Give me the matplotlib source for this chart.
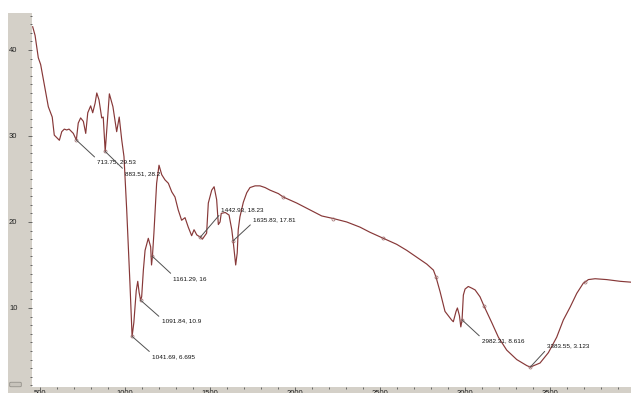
import matplotlib
matplotlib.use("Agg")
import numpy as np
from matplotlib import pyplot as plt
from matplotlib.patches import Rectangle, FancyBboxPatch

# IR spectrum trace (wavenumber, transmittance)
wavenumber = [
    457, 471, 490, 504, 529, 549, 572, 584, 594, 614, 628, 643, 657, 671, 686, 696,
    713.75, 725, 739, 755, 769, 781, 798, 810, 824, 834, 847, 863, 872, 883.51,
    908, 929, 951, 966, 981, 994, 1000, 1010, 1029, 1041.69, 1052, 1066, 1075,
    1083, 1091.84, 1098, 1108, 1118, 1137, 1151, 1156, 1161.29, 1170, 1186, 1200,
    1216, 1235, 1255, 1275, 1294, 1313, 1333, 1353, 1372, 1392, 1406, 1422,
    1442.93, 1455, 1480, 1490, 1510, 1524, 1539, 1549, 1559, 1566, 1590, 1612,
    1628, 1635.83, 1651, 1660, 1666, 1676, 1696, 1716, 1735, 1765, 1794, 1824,
    1853, 1902, 1931, 2010, 2088, 2157, 2225, 2304, 2382, 2441, 2519, 2598, 2657,
    2716, 2775, 2814, 2829, 2853, 2882, 2921, 2931, 2947, 2955, 2967, 2975,
    2982.31, 2990, 3000, 3019, 3040, 3059, 3088, 3112, 3157, 3196, 3245, 3304,
    3363, 3383.55, 3441, 3490, 3539, 3578, 3618, 3657, 3696, 3706, 3725, 3765,
    3833, 3912, 3976,
]
transmittance = [
    42.7, 41.7, 39.1, 38.3, 35.6, 33.4, 32.2, 30.1, 29.9, 29.5, 30.5, 30.8, 30.7,
    30.8, 30.5, 30.3, 29.53, 31.5, 32.1, 31.7, 30.3, 32.7, 33.5, 32.7, 33.8, 35.0,
    34.2, 32.1, 32.2, 28.2, 34.9, 33.4, 30.5, 32.2, 29.5, 27.6, 25.2, 21.4, 12.9,
    6.695, 8.3, 12.0, 13.1, 11.8, 10.9, 11.3, 14.4, 16.7, 18.1, 17.1, 15.0, 16.0,
    18.7, 24.5, 26.6, 25.5, 24.9, 24.5, 23.5, 22.9, 21.4, 20.2, 20.5, 19.4, 18.4,
    19.1, 18.5, 18.23, 18.0, 18.7, 22.2, 23.7, 24.1, 22.6, 19.7, 20.0, 21.0, 21.1,
    20.8, 19.1, 17.81, 15.0, 16.4, 19.1, 20.6, 22.3, 23.4, 24.0, 24.2, 24.2, 24.0,
    23.7, 23.3, 22.9, 22.2, 21.4, 20.7, 20.4, 20.0, 19.4, 18.8, 18.1, 17.4, 16.7,
    15.9, 15.1, 14.4, 13.6, 11.9, 9.6, 8.6, 8.4, 9.6, 10.0, 9.1, 7.8, 8.616, 11.5,
    12.2, 12.5, 12.3, 12.1, 11.3, 10.2, 8.3, 6.6, 5.1, 4.0, 3.3, 3.123, 3.6, 4.8,
    6.6, 8.6, 10.1, 11.7, 12.9, 13.0, 13.3, 13.4, 13.3, 13.1, 13.0,
]

# picked peaks and where their labels sit (pixel offset from the peak)
peak_x = [713.75, 883.51, 1041.69, 1091.84, 1161.29, 1442.93, 1635.83, 2982.31, 3383.55]
peak_y = [29.53, 28.2, 6.695, 10.9, 16, 18.23, 17.81, 8.616, 3.123]
peak_text = ["713.75, 29.53", "883.51, 28.2", "1041.69, 6.695", "1091.84, 10.9",
             "1161.29, 16", "1442.93, 18.23", "1635.83, 17.81", "2982.31, 8.616",
             "3383.55, 3.123"]
label_dx = [21, 20, 20, 21, 21, 21, 20, 20, 17]
label_dy = [-22, -22, -20, -21, -22, 27, 21, -21, 21]

# spline knots shown as small circles on the smooth part
knot_x = [1931, 2225, 2519, 2829, 3112, 3706]

x_ticks = [500, 1000, 1500, 2000, 2500, 3000, 3500]
y_ticks = [10, 20, 30, 40]

W, H = 631, 393
fig = plt.figure(figsize=(W / 100, H / 100), dpi=100)
fig.patch.set_facecolor("white")

panel = "#d4d0c8"
fig.patches.append(Rectangle((8 / W, 0), 24 / W, 380 / H, transform=fig.transFigure,
                             facecolor=panel, edgecolor="none", zorder=-2))
fig.patches.append(Rectangle((8 / W, 0), (W - 8) / W, 6 / H, transform=fig.transFigure,
                             facecolor=panel, edgecolor="none", zorder=-2))
fig.patches.append(FancyBboxPatch((11 / W, 7 / H), 9 / W, 3 / H,
                                  boxstyle="round,pad=0.002", transform=fig.transFigure,
                                  facecolor="#c8c4bc", edgecolor="#8a8780", lw=0.5, zorder=-1))

ax = fig.add_axes([32 / W, 6 / H, (W - 32) / W, (387 - 13) / H])
ax.set_xlim(453, 3976)
ax.set_ylim(0.81, 44.3)
for s in ax.spines.values():
    s.set_visible(False)

wn = np.array(wavenumber)
tr = np.array(transmittance)
mark_idx = [int(np.argmin(np.abs(wn - k))) for k in knot_x + peak_x]
ax.plot(wn, tr, color="#873838", lw=0.85, marker="o", markersize=2.2,
        markerfacecolor="none", markeredgecolor="#9a6a6a", markeredgewidth=0.5,
        markevery=mark_idx, zorder=3)

for px, py, txt, dx, dy in zip(peak_x, peak_y, peak_text, label_dx, label_dy):
    rel = (0, 1) if dy < 0 else (0, 0)
    ax.annotate(txt, xy=(px, py), xytext=(dx, dy), textcoords="offset pixels",
                ha="left", va="center", fontsize=4.6, color="#111111",
                family=["Liberation Sans Narrow", "Liberation Sans", "DejaVu Sans"],
                arrowprops=dict(arrowstyle="-", color="#505050", lw=0.7,
                                shrinkA=0, shrinkB=0, relpos=rel), zorder=4)

ax.set_xticks(x_ticks)
ax.set_xticks(np.arange(500, 4000, 100), minor=True)
ax.set_yticks(y_ticks)
ax.set_yticks(np.arange(1, 45, 1), minor=True)
ax.tick_params(axis="both", which="both", direction="out", color="#555555", width=0.6)
ax.tick_params(axis="y", which="major", length=3, pad=7.5, labelsize=5.5)
ax.tick_params(axis="y", which="minor", length=1.8)
ax.tick_params(axis="x", which="major", length=2, pad=0.5, labelsize=5.5)
ax.tick_params(axis="x", which="minor", length=1.5)
for lab in ax.get_xticklabels() + ax.get_yticklabels():
    lab.set_family(["Liberation Sans", "DejaVu Sans"])
    lab.set_color("#222222")

fig.savefig("out.png", dpi=100)
